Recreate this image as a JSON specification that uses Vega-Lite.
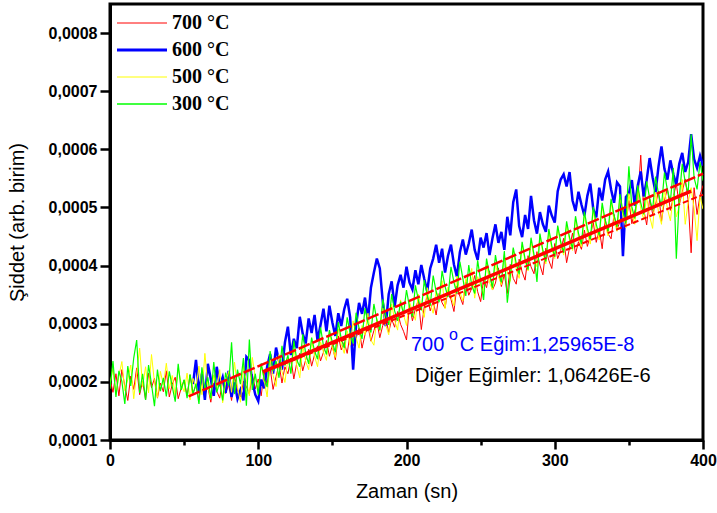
{
"$schema": "https://vega.github.io/schema/vega-lite/v6.json",
"width": 593, "height": 436,
"autosize": {"type": "none"},
"padding": {"left": 110, "top": 4, "right": 14, "bottom": 73},
"background": "white",
"config": {
 "view": {"stroke": "black", "strokeWidth": 3},
 "axis": {"grid": false, "domainColor": "black", "domainWidth": 3, "tickColor": "black", "tickWidth": 2.5, "labelFont": "Liberation Sans", "labelFontWeight": "bold", "labelFontSize": 16, "labelColor": "black", "titleFont": "Liberation Sans", "titleFontWeight": "normal", "titleFontSize": 20, "titleColor": "black", "labelFlush": false}
},
"datasets": {
 "r": [{"t":0,"v":205e-6},{"t":2,"v":182e-6},{"t":4,"v":214e-6},{"t":6,"v":176e-6},{"t":8,"v":221e-6},{"t":10,"v":193e-6},{"t":12,"v":168e-6},{"t":14,"v":210e-6},{"t":16,"v":187e-6},{"t":18,"v":224e-6},
 {"t":20,"v":178e-6},{"t":22,"v":201e-6},{"t":24,"v":169e-6},{"t":26,"v":215e-6},{"t":28,"v":190e-6},{"t":30,"v":206e-6},{"t":32,"v":172e-6},{"t":34,"v":198e-6},{"t":36,"v":183e-6},{"t":38,"v":219e-6},
 {"t":40,"v":174e-6},{"t":42,"v":196e-6},{"t":44,"v":208e-6},{"t":46,"v":171e-6},{"t":48,"v":189e-6},{"t":50,"v":203e-6},{"t":52,"v":176e-6},{"t":54,"v":212e-6},{"t":56,"v":181e-6},{"t":58,"v":194e-6},
 {"t":60,"v":169e-6},{"t":62,"v":207e-6},{"t":64,"v":178e-6},{"t":66,"v":191e-6},{"t":68,"v":165e-6},{"t":70,"v":198e-6},{"t":72,"v":184e-6},{"t":74,"v":172e-6},{"t":76,"v":203e-6},{"t":78,"v":180e-6},
 {"t":80,"v":195e-6},{"t":82,"v":168e-6},{"t":84,"v":210e-6},{"t":86,"v":186e-6},{"t":88,"v":174e-6},{"t":90,"v":201e-6},{"t":92,"v":192e-6},{"t":94,"v":179e-6},{"t":96,"v":213e-6},{"t":98,"v":188e-6},
 {"t":100,"v":205e-6},{"t":102,"v":176e-6},{"t":104,"v":218e-6},{"t":106,"v":195e-6},{"t":108,"v":224e-6},{"t":110,"v":187e-6},{"t":112,"v":209e-6},{"t":114,"v":231e-6},{"t":116,"v":198e-6},{"t":118,"v":226e-6},
 {"t":120,"v":214e-6},{"t":122,"v":241e-6},{"t":124,"v":205e-6},{"t":126,"v":233e-6},{"t":128,"v":249e-6},{"t":130,"v":219e-6},{"t":132,"v":238e-6},{"t":134,"v":256e-6},{"t":136,"v":227e-6},{"t":138,"v":247e-6},
 {"t":140,"v":262e-6},{"t":142,"v":236e-6},{"t":144,"v":251e-6},{"t":146,"v":271e-6},{"t":148,"v":244e-6},{"t":150,"v":263e-6},{"t":152,"v":238e-6},{"t":154,"v":279e-6},{"t":156,"v":255e-6},{"t":158,"v":268e-6},
 {"t":160,"v":249e-6},{"t":162,"v":284e-6},{"t":164,"v":262e-6},{"t":166,"v":275e-6},{"t":168,"v":293e-6},{"t":170,"v":258e-6},{"t":172,"v":281e-6},{"t":174,"v":296e-6},{"t":176,"v":270e-6},{"t":178,"v":288e-6},
 {"t":180,"v":304e-6},{"t":182,"v":276e-6},{"t":184,"v":297e-6},{"t":186,"v":312e-6},{"t":188,"v":285e-6},{"t":190,"v":308e-6},{"t":192,"v":294e-6},{"t":194,"v":321e-6},{"t":196,"v":299e-6},{"t":198,"v":287e-6},
 {"t":200,"v":272e-6},{"t":202,"v":333e-6},{"t":204,"v":305e-6},{"t":206,"v":326e-6},{"t":208,"v":341e-6},{"t":210,"v":290e-6},{"t":212,"v":330e-6},{"t":214,"v":348e-6},{"t":216,"v":322e-6},{"t":218,"v":339e-6},
 {"t":220,"v":315e-6},{"t":222,"v":352e-6},{"t":224,"v":336e-6},{"t":226,"v":327e-6},{"t":228,"v":358e-6},{"t":230,"v":342e-6},{"t":232,"v":321e-6},{"t":234,"v":365e-6},{"t":236,"v":347e-6},{"t":238,"v":333e-6},
 {"t":240,"v":372e-6},{"t":242,"v":349e-6},{"t":244,"v":361e-6},{"t":246,"v":383e-6},{"t":248,"v":355e-6},{"t":250,"v":338e-6},{"t":252,"v":376e-6},{"t":254,"v":362e-6},{"t":256,"v":391e-6},{"t":258,"v":358e-6},
 {"t":260,"v":370e-6},{"t":262,"v":396e-6},{"t":264,"v":364e-6},{"t":266,"v":385e-6},{"t":268,"v":352e-6},{"t":270,"v":402e-6},{"t":272,"v":378e-6},{"t":274,"v":368e-6},{"t":276,"v":411e-6},{"t":278,"v":389e-6},
 {"t":280,"v":375e-6},{"t":282,"v":417e-6},{"t":284,"v":398e-6},{"t":286,"v":386e-6},{"t":288,"v":424e-6},{"t":290,"v":401e-6},{"t":292,"v":384e-6},{"t":294,"v":430e-6},{"t":296,"v":409e-6},{"t":298,"v":395e-6},
 {"t":300,"v":438e-6},{"t":302,"v":412e-6},{"t":304,"v":426e-6},{"t":306,"v":447e-6},{"t":308,"v":405e-6},{"t":310,"v":431e-6},{"t":312,"v":456e-6},{"t":314,"v":420e-6},{"t":316,"v":441e-6},{"t":318,"v":428e-6},
 {"t":320,"v":461e-6},{"t":322,"v":433e-6},{"t":324,"v":452e-6},{"t":326,"v":474e-6},{"t":328,"v":440e-6},{"t":330,"v":463e-6},{"t":332,"v":429e-6},{"t":334,"v":481e-6},{"t":336,"v":455e-6},{"t":338,"v":446e-6},
 {"t":340,"v":488e-6},{"t":342,"v":462e-6},{"t":344,"v":476e-6},{"t":346,"v":499e-6},{"t":348,"v":468e-6},{"t":350,"v":512e-6},{"t":352,"v":472e-6},{"t":354,"v":494e-6},{"t":356,"v":511e-6},{"t":358,"v":590e-6},
 {"t":360,"v":497e-6},{"t":362,"v":470e-6},{"t":364,"v":515e-6},{"t":366,"v":489e-6},{"t":368,"v":505e-6},{"t":370,"v":528e-6},{"t":372,"v":476e-6},{"t":374,"v":512e-6},{"t":376,"v":533e-6},{"t":378,"v":495e-6},
 {"t":380,"v":518e-6},{"t":382,"v":541e-6},{"t":384,"v":504e-6},{"t":386,"v":527e-6},{"t":388,"v":549e-6},{"t":390,"v":512e-6},{"t":392,"v":422e-6},{"t":394,"v":534e-6},{"t":396,"v":488e-6},{"t":398,"v":521e-6},
 {"t":400,"v":538e-6}],
 "b": [{"t":56,"v":196e-6},{"t":58,"v":238e-6},{"t":60,"v":182e-6},{"t":62,"v":214e-6},{"t":64,"v":169e-6},{"t":66,"v":231e-6},{"t":68,"v":205e-6},{"t":70,"v":176e-6},{"t":72,"v":226e-6},{"t":74,"v":193e-6},
 {"t":76,"v":208e-6},{"t":78,"v":181e-6},{"t":80,"v":219e-6},{"t":82,"v":174e-6},{"t":84,"v":199e-6},{"t":86,"v":171e-6},{"t":88,"v":186e-6},{"t":90,"v":168e-6},{"t":92,"v":243e-6},{"t":94,"v":237e-6},
 {"t":96,"v":201e-6},{"t":98,"v":178e-6},{"t":100,"v":167e-6},{"t":102,"v":204e-6},{"t":104,"v":189e-6},{"t":106,"v":226e-6},{"t":108,"v":248e-6},{"t":110,"v":214e-6},{"t":112,"v":259e-6},{"t":114,"v":236e-6},
 {"t":116,"v":221e-6},{"t":118,"v":268e-6},{"t":120,"v":295e-6},{"t":122,"v":246e-6},{"t":124,"v":274e-6},{"t":126,"v":258e-6},{"t":128,"v":312e-6},{"t":130,"v":283e-6},{"t":132,"v":266e-6},{"t":134,"v":309e-6},
 {"t":136,"v":284e-6},{"t":138,"v":315e-6},{"t":140,"v":271e-6},{"t":142,"v":298e-6},{"t":144,"v":326e-6},{"t":146,"v":287e-6},{"t":148,"v":331e-6},{"t":150,"v":302e-6},{"t":152,"v":279e-6},{"t":154,"v":318e-6},
 {"t":156,"v":296e-6},{"t":158,"v":325e-6},{"t":160,"v":343e-6},{"t":162,"v":311e-6},{"t":164,"v":221e-6},{"t":166,"v":298e-6},{"t":168,"v":336e-6},{"t":170,"v":317e-6},{"t":172,"v":345e-6},{"t":174,"v":306e-6},
 {"t":176,"v":362e-6},{"t":178,"v":388e-6},{"t":180,"v":412e-6},{"t":182,"v":395e-6},{"t":184,"v":338e-6},{"t":186,"v":296e-6},{"t":188,"v":351e-6},{"t":190,"v":373e-6},{"t":192,"v":329e-6},{"t":194,"v":366e-6},
 {"t":196,"v":384e-6},{"t":198,"v":362e-6},{"t":200,"v":398e-6},{"t":202,"v":371e-6},{"t":204,"v":359e-6},{"t":206,"v":392e-6},{"t":208,"v":368e-6},{"t":210,"v":401e-6},{"t":212,"v":377e-6},{"t":214,"v":356e-6},
 {"t":216,"v":395e-6},{"t":218,"v":412e-6},{"t":220,"v":436e-6},{"t":222,"v":405e-6},{"t":224,"v":429e-6},{"t":226,"v":388e-6},{"t":228,"v":417e-6},{"t":230,"v":436e-6},{"t":232,"v":402e-6},{"t":234,"v":381e-6},
 {"t":236,"v":423e-6},{"t":238,"v":445e-6},{"t":240,"v":419e-6},{"t":242,"v":438e-6},{"t":244,"v":462e-6},{"t":246,"v":427e-6},{"t":248,"v":410e-6},{"t":250,"v":448e-6},{"t":252,"v":431e-6},{"t":254,"v":456e-6},
 {"t":256,"v":418e-6},{"t":258,"v":447e-6},{"t":260,"v":471e-6},{"t":262,"v":439e-6},{"t":264,"v":458e-6},{"t":266,"v":427e-6},{"t":268,"v":484e-6},{"t":270,"v":452e-6},{"t":272,"v":509e-6},{"t":274,"v":531e-6},
 {"t":276,"v":468e-6},{"t":278,"v":449e-6},{"t":280,"v":487e-6},{"t":282,"v":463e-6},{"t":284,"v":520e-6},{"t":286,"v":478e-6},{"t":288,"v":455e-6},{"t":290,"v":492e-6},{"t":292,"v":471e-6},{"t":294,"v":458e-6},
 {"t":296,"v":503e-6},{"t":298,"v":486e-6},{"t":300,"v":474e-6},{"t":302,"v":528e-6},{"t":304,"v":548e-6},{"t":306,"v":557e-6},{"t":308,"v":536e-6},{"t":310,"v":561e-6},{"t":312,"v":512e-6},{"t":314,"v":494e-6},
 {"t":316,"v":527e-6},{"t":318,"v":505e-6},{"t":320,"v":486e-6},{"t":322,"v":520e-6},{"t":324,"v":541e-6},{"t":326,"v":497e-6},{"t":328,"v":483e-6},{"t":330,"v":534e-6},{"t":332,"v":512e-6},{"t":334,"v":548e-6},
 {"t":336,"v":562e-6},{"t":338,"v":531e-6},{"t":340,"v":508e-6},{"t":342,"v":543e-6},{"t":344,"v":536e-6},{"t":346,"v":416e-6},{"t":348,"v":518e-6},{"t":350,"v":524e-6},{"t":352,"v":547e-6},{"t":354,"v":503e-6},
 {"t":356,"v":538e-6},{"t":358,"v":562e-6},{"t":360,"v":519e-6},{"t":362,"v":547e-6},{"t":364,"v":585e-6},{"t":366,"v":552e-6},{"t":368,"v":526e-6},{"t":370,"v":571e-6},{"t":372,"v":605e-6},{"t":374,"v":566e-6},
 {"t":376,"v":548e-6},{"t":378,"v":581e-6},{"t":380,"v":557e-6},{"t":382,"v":539e-6},{"t":384,"v":575e-6},{"t":386,"v":594e-6},{"t":388,"v":561e-6},{"t":390,"v":578e-6},{"t":392,"v":626e-6},{"t":394,"v":583e-6},
 {"t":396,"v":568e-6},{"t":398,"v":589e-6},{"t":400,"v":572e-6}],
 "y": [{"t":0,"v":196e-6},{"t":2,"v":223e-6},{"t":4,"v":178e-6},{"t":6,"v":210e-6},{"t":8,"v":235e-6},{"t":10,"v":185e-6},{"t":12,"v":204e-6},{"t":14,"v":229e-6},{"t":16,"v":171e-6},{"t":18,"v":215e-6},
 {"t":20,"v":258e-6},{"t":22,"v":192e-6},{"t":24,"v":226e-6},{"t":26,"v":181e-6},{"t":28,"v":247e-6},{"t":30,"v":199e-6},{"t":32,"v":173e-6},{"t":34,"v":218e-6},{"t":36,"v":194e-6},{"t":38,"v":232e-6},
 {"t":40,"v":188e-6},{"t":42,"v":211e-6},{"t":44,"v":176e-6},{"t":46,"v":224e-6},{"t":48,"v":197e-6},{"t":50,"v":183e-6},{"t":52,"v":215e-6},{"t":54,"v":169e-6},{"t":56,"v":206e-6},{"t":58,"v":190e-6},
 {"t":60,"v":227e-6},{"t":62,"v":178e-6},{"t":64,"v":249e-6},{"t":66,"v":193e-6},{"t":68,"v":171e-6},{"t":70,"v":212e-6},{"t":72,"v":186e-6},{"t":74,"v":221e-6},{"t":76,"v":164e-6},{"t":78,"v":199e-6},
 {"t":80,"v":218e-6},{"t":82,"v":182e-6},{"t":84,"v":234e-6},{"t":86,"v":191e-6},{"t":88,"v":165e-6},{"t":90,"v":227e-6},{"t":92,"v":201e-6},{"t":94,"v":176e-6},{"t":96,"v":242e-6},{"t":98,"v":208e-6},
 {"t":100,"v":187e-6},{"t":102,"v":229e-6},{"t":104,"v":203e-6},{"t":106,"v":174e-6},{"t":108,"v":238e-6},{"t":110,"v":211e-6},{"t":112,"v":192e-6},{"t":114,"v":247e-6},{"t":116,"v":218e-6},{"t":118,"v":199e-6},
 {"t":120,"v":241e-6},{"t":122,"v":216e-6},{"t":124,"v":258e-6},{"t":126,"v":228e-6},{"t":128,"v":207e-6},{"t":130,"v":263e-6},{"t":132,"v":235e-6},{"t":134,"v":221e-6},{"t":136,"v":272e-6},{"t":138,"v":244e-6},
 {"t":140,"v":226e-6},{"t":142,"v":269e-6},{"t":144,"v":251e-6},{"t":146,"v":237e-6},{"t":148,"v":286e-6},{"t":150,"v":258e-6},{"t":152,"v":242e-6},{"t":154,"v":291e-6},{"t":156,"v":265e-6},{"t":158,"v":249e-6},
 {"t":160,"v":288e-6},{"t":162,"v":263e-6},{"t":164,"v":305e-6},{"t":166,"v":276e-6},{"t":168,"v":258e-6},{"t":170,"v":297e-6},{"t":172,"v":281e-6},{"t":174,"v":318e-6},{"t":176,"v":272e-6},{"t":178,"v":263e-6},
 {"t":180,"v":309e-6},{"t":182,"v":287e-6},{"t":184,"v":327e-6},{"t":186,"v":298e-6},{"t":188,"v":281e-6},{"t":190,"v":334e-6},{"t":192,"v":306e-6},{"t":194,"v":289e-6},{"t":196,"v":341e-6},{"t":198,"v":315e-6},
 {"t":200,"v":297e-6},{"t":202,"v":338e-6},{"t":204,"v":322e-6},{"t":206,"v":306e-6},{"t":208,"v":351e-6},{"t":210,"v":329e-6},{"t":212,"v":311e-6},{"t":214,"v":362e-6},{"t":216,"v":336e-6},{"t":218,"v":318e-6},
 {"t":220,"v":357e-6},{"t":222,"v":341e-6},{"t":224,"v":374e-6},{"t":226,"v":326e-6},{"t":228,"v":363e-6},{"t":230,"v":348e-6},{"t":232,"v":331e-6},{"t":234,"v":382e-6},{"t":236,"v":355e-6},{"t":238,"v":339e-6},
 {"t":240,"v":378e-6},{"t":242,"v":362e-6},{"t":244,"v":395e-6},{"t":246,"v":344e-6},{"t":248,"v":381e-6},{"t":250,"v":366e-6},{"t":252,"v":352e-6},{"t":254,"v":405e-6},{"t":256,"v":371e-6},{"t":258,"v":358e-6},
 {"t":260,"v":402e-6},{"t":262,"v":381e-6},{"t":264,"v":367e-6},{"t":266,"v":419e-6},{"t":268,"v":389e-6},{"t":270,"v":373e-6},{"t":272,"v":428e-6},{"t":274,"v":394e-6},{"t":276,"v":378e-6},{"t":278,"v":436e-6},
 {"t":280,"v":407e-6},{"t":282,"v":391e-6},{"t":284,"v":441e-6},{"t":286,"v":414e-6},{"t":288,"v":398e-6},{"t":290,"v":452e-6},{"t":292,"v":421e-6},{"t":294,"v":403e-6},{"t":296,"v":460e-6},{"t":298,"v":428e-6},
 {"t":300,"v":412e-6},{"t":302,"v":466e-6},{"t":304,"v":437e-6},{"t":306,"v":418e-6},{"t":308,"v":471e-6},{"t":310,"v":443e-6},{"t":312,"v":426e-6},{"t":314,"v":482e-6},{"t":316,"v":449e-6},{"t":318,"v":432e-6},
 {"t":320,"v":488e-6},{"t":322,"v":456e-6},{"t":324,"v":437e-6},{"t":326,"v":495e-6},{"t":328,"v":462e-6},{"t":330,"v":444e-6},{"t":332,"v":503e-6},{"t":334,"v":471e-6},{"t":336,"v":451e-6},{"t":338,"v":509e-6},
 {"t":340,"v":478e-6},{"t":342,"v":459e-6},{"t":344,"v":518e-6},{"t":346,"v":486e-6},{"t":348,"v":465e-6},{"t":350,"v":524e-6},{"t":352,"v":492e-6},{"t":354,"v":471e-6},{"t":356,"v":531e-6},{"t":358,"v":498e-6},
 {"t":360,"v":479e-6},{"t":362,"v":518e-6},{"t":364,"v":485e-6},{"t":366,"v":464e-6},{"t":368,"v":526e-6},{"t":370,"v":492e-6},{"t":372,"v":471e-6},{"t":374,"v":532e-6},{"t":376,"v":498e-6},{"t":378,"v":477e-6},
 {"t":380,"v":521e-6},{"t":382,"v":484e-6},{"t":384,"v":502e-6},{"t":386,"v":548e-6},{"t":388,"v":471e-6},{"t":390,"v":509e-6},{"t":392,"v":534e-6},{"t":394,"v":498e-6},{"t":396,"v":443e-6},{"t":398,"v":519e-6},
 {"t":400,"v":497e-6}],
 "g": [{"t":0,"v":188e-6},{"t":2,"v":236e-6},{"t":4,"v":174e-6},{"t":6,"v":219e-6},{"t":8,"v":201e-6},{"t":10,"v":162e-6},{"t":12,"v":227e-6},{"t":14,"v":193e-6},{"t":16,"v":241e-6},{"t":18,"v":272e-6},
 {"t":20,"v":181e-6},{"t":22,"v":214e-6},{"t":24,"v":169e-6},{"t":26,"v":229e-6},{"t":28,"v":196e-6},{"t":30,"v":158e-6},{"t":32,"v":221e-6},{"t":34,"v":184e-6},{"t":36,"v":207e-6},{"t":38,"v":175e-6},
 {"t":40,"v":218e-6},{"t":42,"v":192e-6},{"t":44,"v":166e-6},{"t":46,"v":231e-6},{"t":48,"v":186e-6},{"t":50,"v":204e-6},{"t":52,"v":172e-6},{"t":54,"v":213e-6},{"t":56,"v":179e-6},{"t":58,"v":197e-6},
 {"t":60,"v":162e-6},{"t":62,"v":225e-6},{"t":64,"v":187e-6},{"t":66,"v":208e-6},{"t":68,"v":171e-6},{"t":70,"v":234e-6},{"t":72,"v":182e-6},{"t":74,"v":199e-6},{"t":76,"v":168e-6},{"t":78,"v":216e-6},
 {"t":80,"v":193e-6},{"t":82,"v":268e-6},{"t":84,"v":179e-6},{"t":86,"v":221e-6},{"t":88,"v":196e-6},{"t":90,"v":241e-6},{"t":92,"v":159e-6},{"t":94,"v":273e-6},{"t":96,"v":186e-6},{"t":98,"v":214e-6},
 {"t":100,"v":178e-6},{"t":102,"v":232e-6},{"t":104,"v":205e-6},{"t":106,"v":191e-6},{"t":108,"v":253e-6},{"t":110,"v":219e-6},{"t":112,"v":236e-6},{"t":114,"v":207e-6},{"t":116,"v":262e-6},{"t":118,"v":228e-6},
 {"t":120,"v":246e-6},{"t":122,"v":214e-6},{"t":124,"v":271e-6},{"t":126,"v":238e-6},{"t":128,"v":226e-6},{"t":130,"v":282e-6},{"t":132,"v":249e-6},{"t":134,"v":231e-6},{"t":136,"v":276e-6},{"t":138,"v":253e-6},
 {"t":140,"v":239e-6},{"t":142,"v":294e-6},{"t":144,"v":262e-6},{"t":146,"v":247e-6},{"t":148,"v":289e-6},{"t":150,"v":268e-6},{"t":152,"v":251e-6},{"t":154,"v":303e-6},{"t":156,"v":274e-6},{"t":158,"v":258e-6},
 {"t":160,"v":311e-6},{"t":162,"v":283e-6},{"t":164,"v":266e-6},{"t":166,"v":319e-6},{"t":168,"v":292e-6},{"t":170,"v":274e-6},{"t":172,"v":327e-6},{"t":174,"v":301e-6},{"t":176,"v":285e-6},{"t":178,"v":334e-6},
 {"t":180,"v":306e-6},{"t":182,"v":289e-6},{"t":184,"v":342e-6},{"t":186,"v":315e-6},{"t":188,"v":298e-6},{"t":190,"v":351e-6},{"t":192,"v":322e-6},{"t":194,"v":305e-6},{"t":196,"v":338e-6},{"t":198,"v":317e-6},
 {"t":200,"v":358e-6},{"t":202,"v":329e-6},{"t":204,"v":312e-6},{"t":206,"v":366e-6},{"t":208,"v":341e-6},{"t":210,"v":323e-6},{"t":212,"v":375e-6},{"t":214,"v":349e-6},{"t":216,"v":331e-6},{"t":218,"v":383e-6},
 {"t":220,"v":355e-6},{"t":222,"v":337e-6},{"t":224,"v":391e-6},{"t":226,"v":364e-6},{"t":228,"v":346e-6},{"t":230,"v":398e-6},{"t":232,"v":371e-6},{"t":234,"v":352e-6},{"t":236,"v":407e-6},{"t":238,"v":378e-6},
 {"t":240,"v":348e-6},{"t":242,"v":401e-6},{"t":244,"v":366e-6},{"t":246,"v":352e-6},{"t":248,"v":409e-6},{"t":250,"v":374e-6},{"t":252,"v":341e-6},{"t":254,"v":412e-6},{"t":256,"v":385e-6},{"t":258,"v":362e-6},
 {"t":260,"v":418e-6},{"t":262,"v":389e-6},{"t":264,"v":371e-6},{"t":266,"v":425e-6},{"t":268,"v":336e-6},{"t":270,"v":382e-6},{"t":272,"v":431e-6},{"t":274,"v":404e-6},{"t":276,"v":385e-6},{"t":278,"v":441e-6},
 {"t":280,"v":411e-6},{"t":282,"v":393e-6},{"t":284,"v":448e-6},{"t":286,"v":419e-6},{"t":288,"v":372e-6},{"t":290,"v":455e-6},{"t":292,"v":426e-6},{"t":294,"v":407e-6},{"t":296,"v":463e-6},{"t":298,"v":434e-6},
 {"t":300,"v":415e-6},{"t":302,"v":469e-6},{"t":304,"v":441e-6},{"t":306,"v":422e-6},{"t":308,"v":476e-6},{"t":310,"v":448e-6},{"t":312,"v":429e-6},{"t":314,"v":485e-6},{"t":316,"v":456e-6},{"t":318,"v":437e-6},
 {"t":320,"v":493e-6},{"t":322,"v":464e-6},{"t":324,"v":445e-6},{"t":326,"v":501e-6},{"t":328,"v":471e-6},{"t":330,"v":452e-6},{"t":332,"v":508e-6},{"t":334,"v":478e-6},{"t":336,"v":459e-6},{"t":338,"v":515e-6},
 {"t":340,"v":486e-6},{"t":342,"v":467e-6},{"t":344,"v":523e-6},{"t":346,"v":493e-6},{"t":348,"v":474e-6},{"t":350,"v":571e-6},{"t":352,"v":501e-6},{"t":354,"v":481e-6},{"t":356,"v":538e-6},{"t":358,"v":508e-6},
 {"t":360,"v":488e-6},{"t":362,"v":545e-6},{"t":364,"v":516e-6},{"t":366,"v":495e-6},{"t":368,"v":553e-6},{"t":370,"v":523e-6},{"t":372,"v":502e-6},{"t":374,"v":560e-6},{"t":376,"v":530e-6},{"t":378,"v":510e-6},
 {"t":380,"v":568e-6},{"t":382,"v":412e-6},{"t":384,"v":517e-6},{"t":386,"v":575e-6},{"t":388,"v":544e-6},{"t":390,"v":524e-6},{"t":392,"v":626e-6},{"t":394,"v":551e-6},{"t":396,"v":531e-6},{"t":398,"v":578e-6},
 {"t":400,"v":546e-6}],
 "fitA": [{"t":103,"v":217e-6},{"t":392,"v":528e-6}],
 "fitB": [{"t":53,"v":175e-6},{"t":400,"v":558e-6}],
 "fitC": [{"t":105,"v":218e-6},{"t":400,"v":522e-6}]
},
"layer": [
 {"data": {"name": "r"}, "mark": {"type": "line", "strokeWidth": 1, "clip": true},
  "encoding": {
   "x": {"field": "t", "type": "quantitative", "scale": {"domain": [0, 400], "nice": false},
    "axis": {"title": "Zaman (sn)", "values": [0,50,100,150,200,250,300,350,400], "format": "d",
     "labelExpr": "datum.value % 100 === 0 ? datum.label : ''",
     "tickSize": {"condition": {"test": "datum.value % 100 === 0", "value": 9}, "value": 5},
     "labelPadding": 3, "titlePadding": 13}},
   "y": {"field": "v", "type": "quantitative", "scale": {"domain": [0.0001, 0.00085], "nice": false, "zero": false},
    "axis": {"title": "Şiddet (arb. birim)", "values": [0.0001,0.00015,0.0002,0.00025,0.0003,0.00035,0.0004,0.00045,0.0005,0.00055,0.0006,0.00065,0.0007,0.00075,0.0008],
     "labelExpr": "round(datum.value*100000) % 10 === 0 ? replace(format(datum.value, '.4f'), '.', ',') : ''",
     "tickSize": {"condition": {"test": "round(datum.value*100000) % 10 === 0", "value": 10}, "value": 5},
     "labelPadding": 3, "titlePadding": 21}},
   "color": {"datum": "700 °C", "scale": {"domain": ["700 °C", "600 °C", "500 °C", "300 °C"], "range": ["#ff0000", "#0000ff", "#ffff00", "#00ff00"]},
    "legend": {"title": null, "orient": "none", "legendX": 8, "legendY": 9, "symbolType": "stroke", "symbolSize": 2500, "symbolStrokeWidth": 1.5,
     "labelFont": "Liberation Serif", "labelFontWeight": "bold", "labelFontSize": 20, "labelColor": "black", "labelOffset": 20, "symbolOffset": 14, "rowPadding": 7, "padding": 0,
     "encode": {"symbols": {"update": {"stroke": {"scale": "color", "field": "value"}, "fill": {"value": "transparent"}, "strokeWidth": {"signal": "datum.value === '600 °C' ? 3 : datum.value === '300 °C' ? 1.5 : 1"}}}}}}
  }},
 {"data": {"name": "b"}, "mark": {"type": "line", "strokeWidth": 2.5, "clip": true},
  "encoding": {"x": {"field": "t", "type": "quantitative"}, "y": {"field": "v", "type": "quantitative"}, "color": {"datum": "600 °C"}}},
 {"data": {"name": "y"}, "mark": {"type": "line", "strokeWidth": 1, "clip": true},
  "encoding": {"x": {"field": "t", "type": "quantitative"}, "y": {"field": "v", "type": "quantitative"}, "color": {"datum": "500 °C"}}},
 {"data": {"name": "g"}, "mark": {"type": "line", "strokeWidth": 1.2, "clip": true},
  "encoding": {"x": {"field": "t", "type": "quantitative"}, "y": {"field": "v", "type": "quantitative"}, "color": {"datum": "300 °C"}}},
 {"data": {"name": "fitB"}, "mark": {"type": "line", "strokeWidth": 2.5, "strokeDash": [12, 3], "color": "#ff0000"},
  "encoding": {"x": {"field": "t", "type": "quantitative"}, "y": {"field": "v", "type": "quantitative"}}},
 {"data": {"name": "fitC"}, "mark": {"type": "line", "strokeWidth": 2, "strokeDash": [6, 3], "color": "#ff0000"},
  "encoding": {"x": {"field": "t", "type": "quantitative"}, "y": {"field": "v", "type": "quantitative"}}},
 {"data": {"name": "fitA"}, "mark": {"type": "line", "strokeWidth": 3.5, "color": "#ff0000"},
  "encoding": {"x": {"field": "t", "type": "quantitative"}, "y": {"field": "v", "type": "quantitative"}}},
 {"data": {"values": [{"t": 203, "v": 0.0002534, "txt": "700"}]},
  "mark": {"type": "text", "font": "Liberation Sans", "fontSize": 20, "align": "left", "baseline": "alphabetic", "color": "#0000ff"},
  "encoding": {"x": {"field": "t", "type": "quantitative"}, "y": {"field": "v", "type": "quantitative"}, "text": {"field": "txt"}}},
 {"data": {"values": [{"t": 228.7, "v": 0.0002724, "txt": "o"}]},
  "mark": {"type": "text", "font": "Liberation Sans", "fontSize": 16, "align": "left", "baseline": "alphabetic", "color": "#0000ff"},
  "encoding": {"x": {"field": "t", "type": "quantitative"}, "y": {"field": "v", "type": "quantitative"}, "text": {"field": "txt"}}},
 {"data": {"values": [{"t": 236, "v": 0.0002534, "txt": "C Eğim:1,25965E-8"}]},
  "mark": {"type": "text", "font": "Liberation Sans", "fontSize": 20, "align": "left", "baseline": "alphabetic", "color": "#0000ff"},
  "encoding": {"x": {"field": "t", "type": "quantitative"}, "y": {"field": "v", "type": "quantitative"}, "text": {"field": "txt"}}},
 {"data": {"values": [{"t": 205.7, "v": 0.0002, "txt": "Diğer Eğimler: 1,06426E-6"}]},
  "mark": {"type": "text", "font": "Liberation Sans", "fontSize": 20, "align": "left", "baseline": "alphabetic", "color": "black"},
  "encoding": {"x": {"field": "t", "type": "quantitative"}, "y": {"field": "v", "type": "quantitative"}, "text": {"field": "txt"}}}
]
}
